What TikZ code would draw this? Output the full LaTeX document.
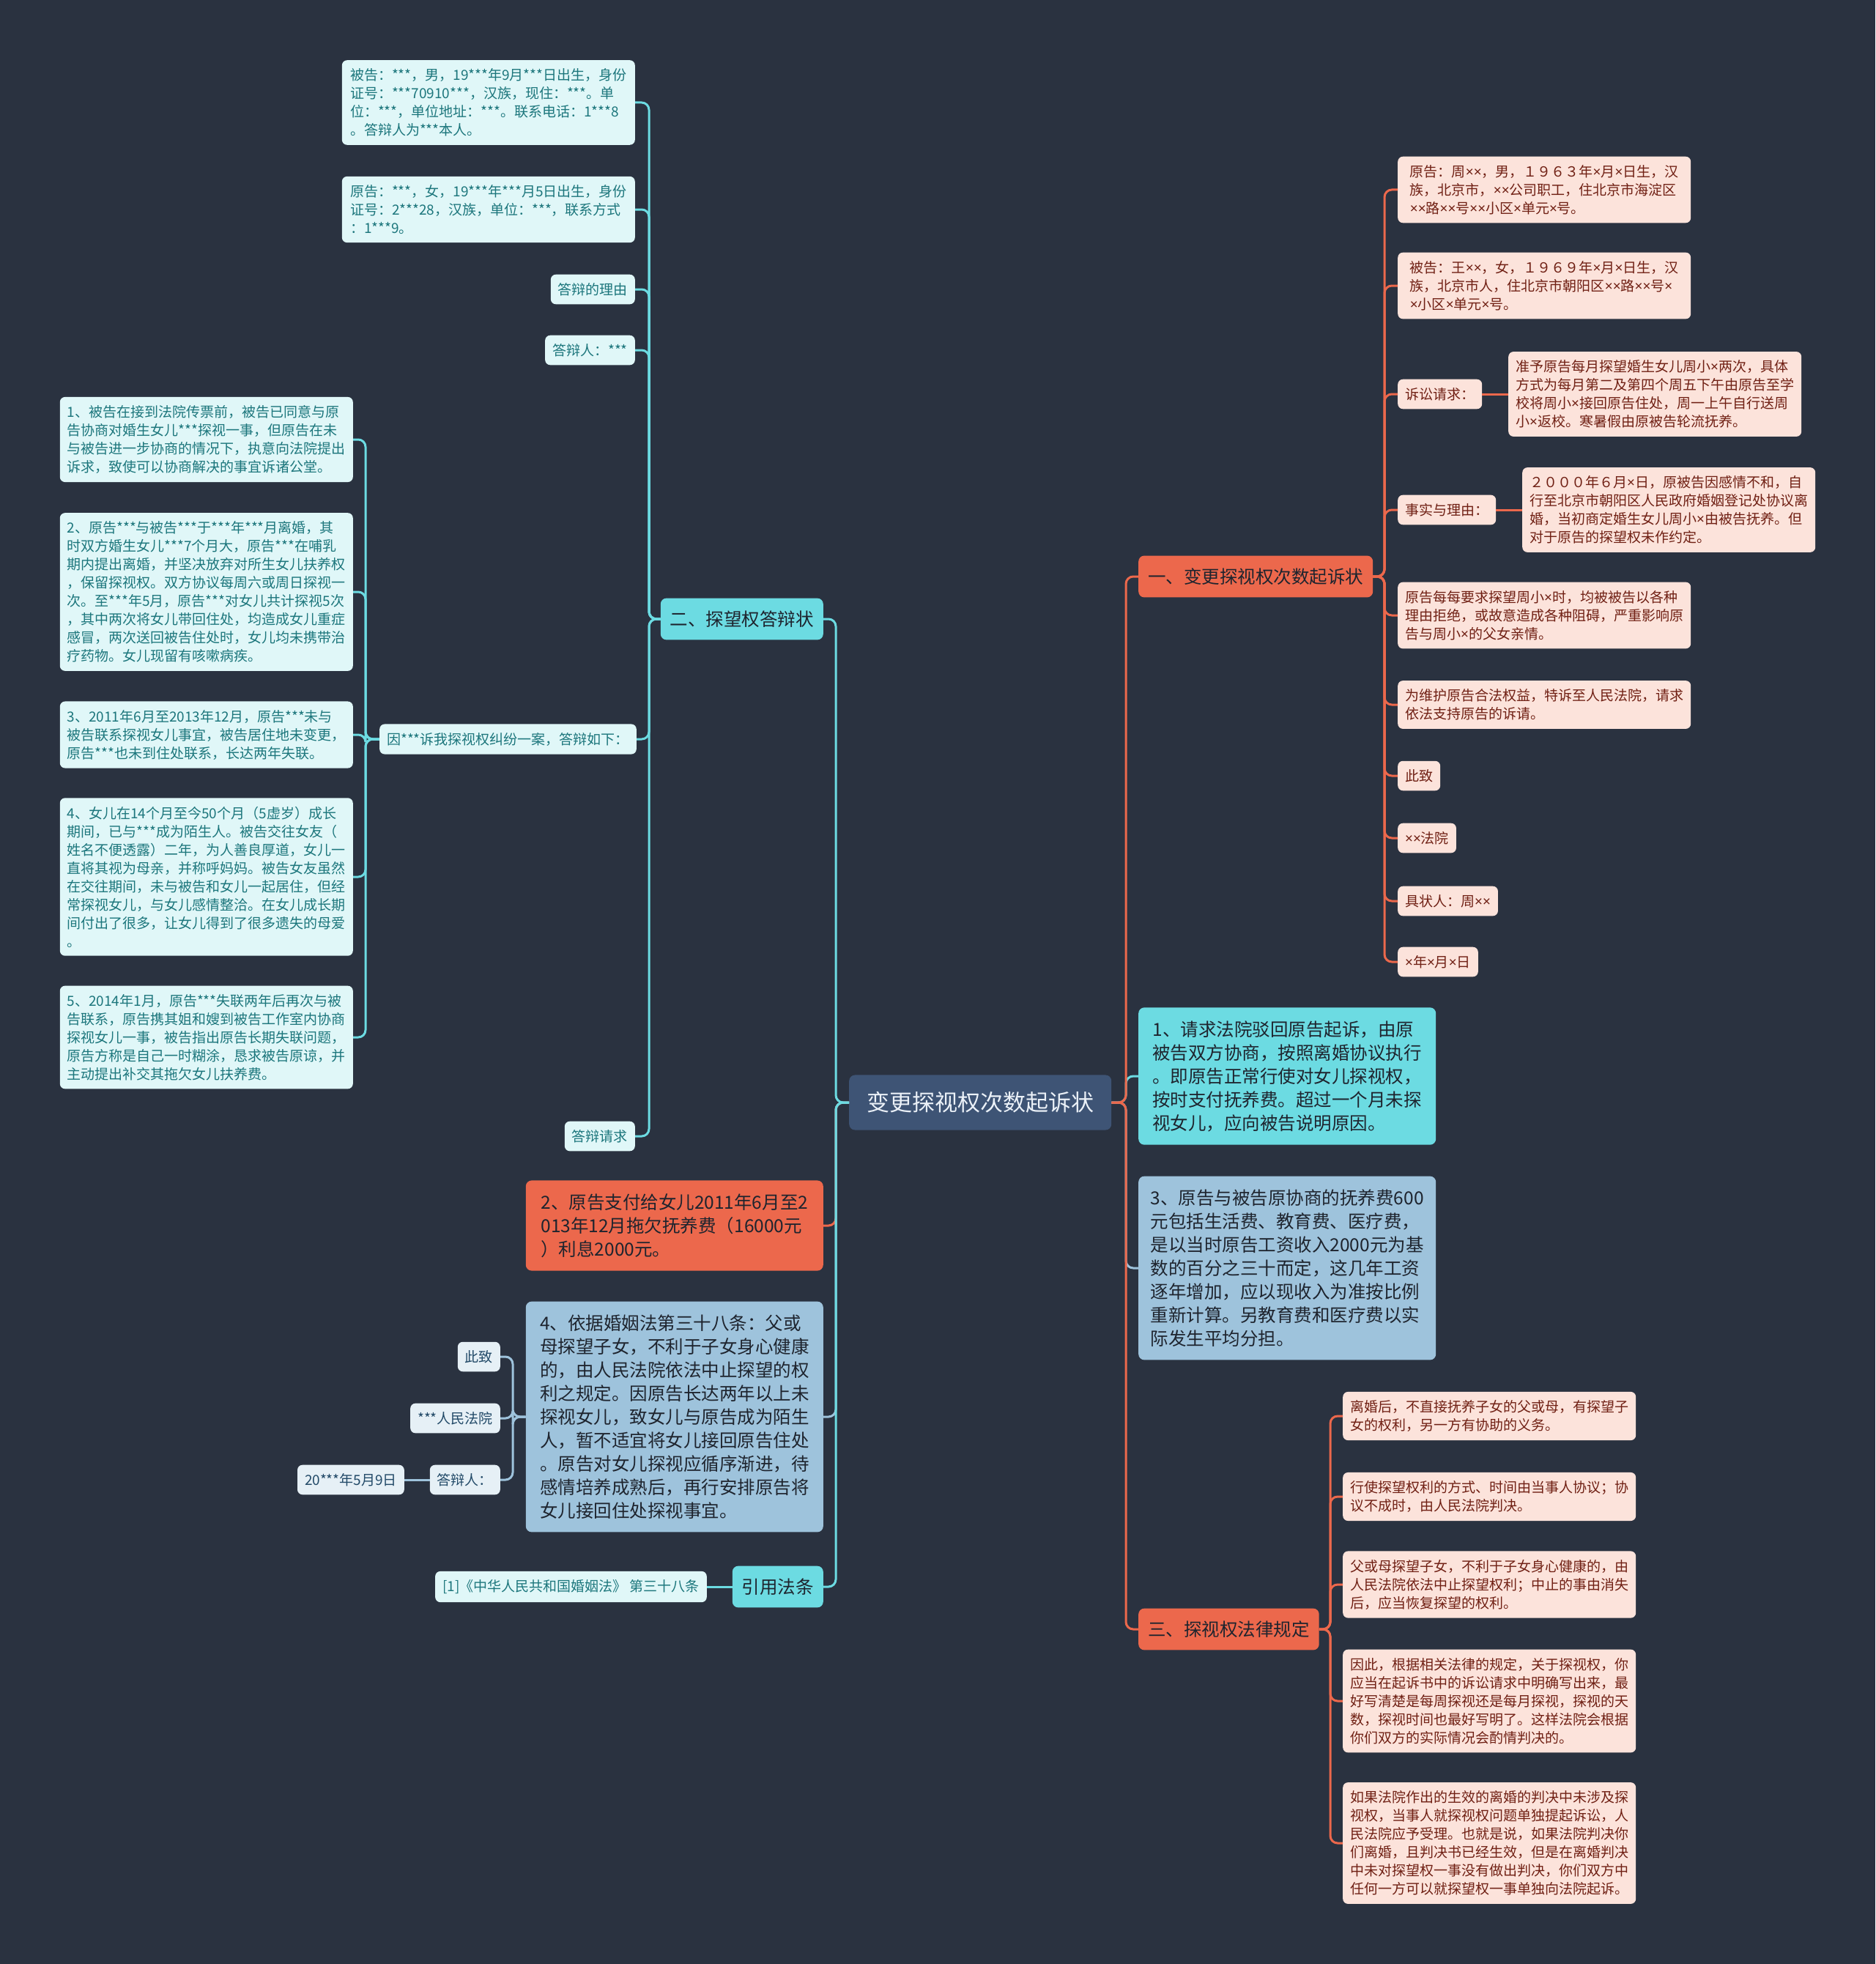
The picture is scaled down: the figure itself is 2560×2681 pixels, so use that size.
\documentclass[tikz,border=0pt]{standalone}
\usepackage{fontspec}
\setmainfont{Noto Sans CJK SC}
\newfontfamily\narrowx{Noto Sans}
\newcommand{\mx}{{\narrowx ×}}
\usepackage{xcolor}
\usepackage{tikz}
\definecolor{bgnavy}{RGB}{42,50,64}
\definecolor{rootblue}{RGB}{62,84,117}
\definecolor{rootfg}{RGB}{235,241,248}
\definecolor{coral}{RGB}{236,104,76}
\definecolor{aqua}{RGB}{108,219,226}
\definecolor{skyblue}{RGB}{158,195,220}
\definecolor{pinkfill}{RGB}{252,227,219}
\definecolor{pinktext}{RGB}{112,32,20}
\definecolor{mintfill}{RGB}{224,247,248}
\definecolor{minttext}{RGB}{28,118,124}
\definecolor{icefill}{RGB}{230,240,246}
\definecolor{icetext}{RGB}{34,74,104}
\definecolor{darktext}{RGB}{30,36,46}

\begin{document}
\begin{tikzpicture}[x=1pt, y=-1pt,
  root/.style={fill=rootblue, text=rootfg, rounded corners=8pt,
               font=\fontsize{31}{38}\selectfont, minimum width=358pt, inner ysep=23pt},
  branch/.style={rounded corners=8pt, text=darktext, align=left,
                 font=\fontsize{24.5}{32}\selectfont, inner xsep=13pt, inner ysep=17pt},
  big/.style={branch, minimum width=406pt, inner xsep=14pt, inner ysep=18pt},
  leaf/.style={rounded corners=7pt, align=left,
               font=\fontsize{19}{25}\selectfont, inner xsep=10pt, inner ysep=11.5pt},
  pinkleaf/.style={leaf, fill=pinkfill, text=pinktext},
  mintleaf/.style={leaf, fill=mintfill, text=minttext},
  iceleaf/.style={leaf, fill=icefill, text=icetext},
  link/.style={line width=3pt, rounded corners=10pt}
]
  \path[use as bounding box, fill=bgnavy] (0,0) rectangle (2560,2681);

  \node[root, anchor=west] (root) at (1159,1505) {变更探视权次数起诉状};

  % right side
  \node[branch, fill=coral, anchor=west] (b1) at (1554,787) {一、变更探视权次数起诉状};
  \node[big, fill=aqua, anchor=west] (b2) at (1554,1469)
    {1、请求法院驳回原告起诉，由原\\被告双方协商，按照离婚协议执行\\。即原告正常行使对女儿探视权，\\按时支付抚养费。超过一个月未探\\视女儿，应向被告说明原因。};
  \node[big, fill=skyblue, anchor=west] (b3) at (1554,1731)
    {3、原告与被告原协商的抚养费600\\元包括生活费、教育费、医疗费，\\是以当时原告工资收入2000元为基\\数的百分之三十而定，这几年工资\\逐年增加，应以现收入为准按比例\\重新计算。另教育费和医疗费以实\\际发生平均分担。};
  \node[branch, fill=coral, anchor=west] (b4) at (1554,2224) {三、探视权法律规定};

  \node[pinkleaf, minimum width=400pt, anchor=west] (r1) at (1908,259)
    {原告：周\mx\mx，男，１９６３年\mx 月\mx 日生，汉\\族，北京市，\mx\mx 公司职工，住北京市海淀区\\\mx\mx 路\mx\mx 号\mx\mx 小区\mx 单元\mx 号。};
  \node[pinkleaf, minimum width=400pt, anchor=west] (r2) at (1908,390)
    {被告：王\mx\mx，女，１９６９年\mx 月\mx 日生，汉\\族，北京市人，住北京市朝阳区\mx\mx 路\mx\mx 号\mx\\\mx 小区\mx 单元\mx 号。};
  \node[pinkleaf, anchor=west] (r3) at (1908,538) {诉讼请求：};
  \node[pinkleaf, minimum width=398pt, anchor=west] (r3a) at (2059,538)
    {准予原告每月探望婚生女儿周小\mx 两次，具体\\方式为每月第二及第四个周五下午由原告至学\\校将周小\mx 接回原告住处，周一上午自行送周\\小\mx 返校。寒暑假由原被告轮流抚养。};
  \node[pinkleaf, anchor=west] (r4) at (1908,696) {事实与理由：};
  \node[pinkleaf, minimum width=398pt, anchor=west] (r4a) at (2078,696)
    {２０００年６月\mx 日，原被告因感情不和，自\\行至北京市朝阳区人民政府婚姻登记处协议离\\婚，当初商定婚生女儿周小\mx 由被告抚养。但\\对于原告的探望权未作约定。};
  \node[pinkleaf, minimum width=400pt, anchor=west] (r5) at (1908,840)
    {原告每每要求探望周小\mx 时，均被被告以各种\\理由拒绝，或故意造成各种阻碍，严重影响原\\告与周小\mx 的父女亲情。};
  \node[pinkleaf, minimum width=400pt, anchor=west] (r6) at (1908,962)
    {为维护原告合法权益，特诉至人民法院，请求\\依法支持原告的诉请。};
  \node[pinkleaf, anchor=west] (r7) at (1908,1059) {此致};
  \node[pinkleaf, anchor=west] (r8) at (1908,1144) {\mx\mx 法院};
  \node[pinkleaf, anchor=west] (r9) at (1908,1230) {具状人：周\mx\mx};
  \node[pinkleaf, anchor=west] (r10) at (1908,1313) {\mx 年\mx 月\mx 日};

  \node[pinkleaf, minimum width=400pt, anchor=west] (s1) at (1833,1933)
    {离婚后，不直接抚养子女的父或母，有探望子\\女的权利，另一方有协助的义务。};
  \node[pinkleaf, minimum width=400pt, anchor=west] (s2) at (1833,2043)
    {行使探望权利的方式、时间由当事人协议；协\\议不成时，由人民法院判决。};
  \node[pinkleaf, minimum width=400pt, anchor=west] (s3) at (1833,2163)
    {父或母探望子女，不利于子女身心健康的，由\\人民法院依法中止探望权利；中止的事由消失\\后，应当恢复探望的权利。};
  \node[pinkleaf, minimum width=400pt, anchor=west] (s4) at (1833,2322)
    {因此，根据相关法律的规定，关于探视权，你\\应当在起诉书中的诉讼请求中明确写出来，最\\好写清楚是每周探视还是每月探视，探视的天\\数，探视时间也最好写明了。这样法院会根据\\你们双方的实际情况会酌情判决的。};
  \node[pinkleaf, minimum width=400pt, anchor=west] (s5) at (1833,2516)
    {如果法院作出的生效的离婚的判决中未涉及探\\视权，当事人就探视权问题单独提起诉讼，人\\民法院应予受理。也就是说，如果法院判决你\\们离婚，且判决书已经生效，但是在离婚判决\\中未对探望权一事没有做出判决，你们双方中\\任何一方可以就探望权一事单独向法院起诉。};

  % left side
  \node[branch, fill=aqua, anchor=east] (L1) at (1124,845) {二、探望权答辩状};
  \node[big, fill=coral, anchor=east] (L2) at (1124,1673)
    {2、原告支付给女儿2011年6月至2\\013年12月拖欠抚养费（16000元\\）利息2000元。};
  \node[big, fill=skyblue, anchor=east] (L3) at (1124,1934)
    {4、依据婚姻法第三十八条：父或\\母探望子女，不利于子女身心健康\\的，由人民法院依法中止探望的权\\利之规定。因原告长达两年以上未\\探视女儿，致女儿与原告成为陌生\\人，暂不适宜将女儿接回原告住处\\。原告对女儿探视应循序渐进，待\\感情培养成熟后，再行安排原告将\\女儿接回住处探视事宜。};
  \node[branch, fill=aqua, anchor=east] (L4) at (1124,2166) {引用法条};

  \node[mintleaf, minimum width=400pt, anchor=east] (l1) at (867,140)
    {被告：***，男，19***年9月***日出生，身份\\证号：***70910***，汉族，现住：***。单\\位：***，单位地址：***。联系电话：1***8\\。答辩人为***本人。};
  \node[mintleaf, minimum width=400pt, anchor=east] (l2) at (867,286)
    {原告：***，女，19***年***月5日出生，身份\\证号：2***28，汉族，单位：***，联系方式\\：1***9。};
  \node[mintleaf, anchor=east] (l3) at (867,395) {答辩的理由};
  \node[mintleaf, anchor=east] (l4) at (867,478) {答辩人：***};
  \node[mintleaf, anchor=east] (l5) at (869,1009) {因***诉我探视权纠纷一案，答辩如下：};
  \node[mintleaf, anchor=east] (l6) at (867,1551) {答辩请求};

  \node[mintleaf, minimum width=400pt, anchor=east] (m1) at (482,600)
    {1、被告在接到法院传票前，被告已同意与原\\告协商对婚生女儿***探视一事，但原告在未\\与被告进一步协商的情况下，执意向法院提出\\诉求，致使可以协商解决的事宜诉诸公堂。};
  \node[mintleaf, minimum width=400pt, anchor=east] (m2) at (482,808)
    {2、原告***与被告***于***年***月离婚，其\\时双方婚生女儿***7个月大，原告***在哺乳\\期内提出离婚，并坚决放弃对所生女儿扶养权\\，保留探视权。双方协议每周六或周日探视一\\次。至***年5月，原告***对女儿共计探视5次\\，其中两次将女儿带回住处，均造成女儿重症\\感冒，两次送回被告住处时，女儿均未携带治\\疗药物。女儿现留有咳嗽病疾。};
  \node[mintleaf, minimum width=400pt, anchor=east] (m3) at (482,1003)
    {3、2011年6月至2013年12月，原告***未与\\被告联系探视女儿事宜，被告居住地未变更，\\原告***也未到住处联系，长达两年失联。};
  \node[mintleaf, minimum width=400pt, anchor=east] (m4) at (482,1197)
    {4、女儿在14个月至今50个月（5虚岁）成长\\期间，已与***成为陌生人。被告交往女友（\\姓名不便透露）二年，为人善良厚道，女儿一\\直将其视为母亲，并称呼妈妈。被告女友虽然\\在交往期间，未与被告和女儿一起居住，但经\\常探视女儿，与女儿感情整洽。在女儿成长期\\间付出了很多，让女儿得到了很多遗失的母爱\\。};
  \node[mintleaf, minimum width=400pt, anchor=east] (m5) at (482,1416)
    {5、2014年1月，原告***失联两年后再次与被\\告联系，原告携其姐和嫂到被告工作室内协商\\探视女儿一事，被告指出原告长期失联问题，\\原告方称是自己一时糊涂，恳求被告原谅，并\\主动提出补交其拖欠女儿扶养费。};

  \node[iceleaf, anchor=east] (k1) at (683,1852) {此致};
  \node[iceleaf, anchor=east] (k2) at (683,1936) {***人民法院};
  \node[iceleaf, anchor=east] (k3) at (683,2020) {答辩人：};
  \node[iceleaf, anchor=east] (k3a) at (552,2020) {20***年5月9日};
  \node[mintleaf, anchor=east] (cite) at (965,2166) {[1]《中华人民共和国婚姻法》 第三十八条};

  \coordinate (rt) at (1537,1505);
  \coordinate (lt) at (1141,1505);
  \coordinate (tb1) at (1890,787);
  \coordinate (tb4) at (1816,2224);
  \coordinate (tL1) at (886,845);
  \coordinate (tl5) at (499,1009);
  \coordinate (tL3) at (700,1934);

  \draw[link, skyblue] (root.east) -- (rt) |- (b3.west);
  \draw[link, aqua]    (root.east) -- (rt) |- (b2.west);
  \draw[link, coral]   (root.east) -- (rt) |- (b1.west);
  \draw[link, coral]   (root.east) -- (rt) |- (b4.west);

  \draw[link, coral]   (root.west) -- (lt) |- (L2.east);
  \draw[link, skyblue] (root.west) -- (lt) |- (L3.east);
  \draw[link, aqua]    (root.west) -- (lt) |- (L4.east);
  \draw[link, aqua]    (root.west) -- (lt) |- (L1.east);

  \foreach \n in {r1,r2,r3,r4,r5,r6,r7,r8,r9,r10}
    \draw[link, coral] (b1.east) -- (tb1) |- (\n.west);
  \draw[link, coral] (r3.east) -- (r3a.west);
  \draw[link, coral] (r4.east) -- (r4a.west);
  \foreach \n in {s1,s2,s3,s4,s5}
    \draw[link, coral] (b4.east) -- (tb4) |- (\n.west);

  \foreach \n in {l1,l2,l3,l4,l5,l6}
    \draw[link, aqua] (L1.west) -- (tL1) |- (\n.east);
  \foreach \n in {m1,m2,m3,m4,m5}
    \draw[link, aqua] (l5.west) -- (tl5) |- (\n.east);
  \foreach \n in {k1,k2,k3}
    \draw[link, skyblue] (L3.west) -- (tL3) |- (\n.east);
  \draw[link, skyblue] (k3.west) -- (k3a.east);
  \draw[link, aqua] (L4.west) -- (cite.east);
\end{tikzpicture}
\end{document}
